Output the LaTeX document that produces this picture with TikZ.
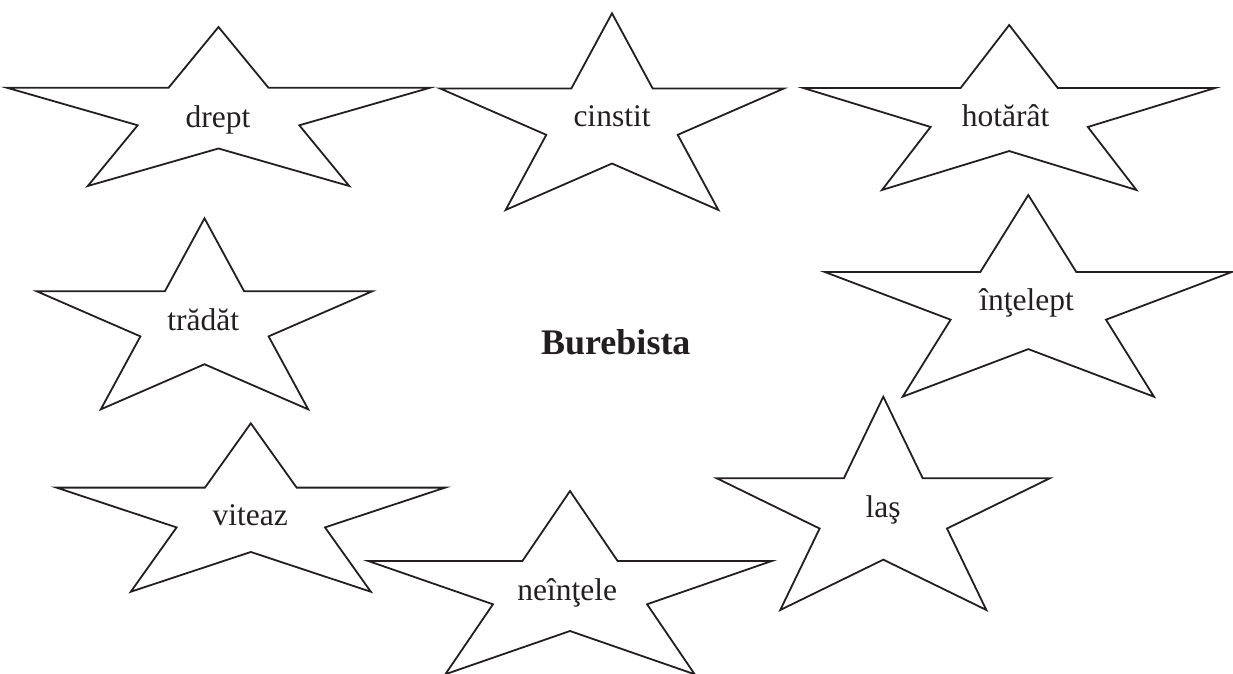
\documentclass[tikz,border=0pt]{standalone}
\usepackage{fontspec}
\setmainfont{Liberation Serif}
\usepackage{xcolor}
\usepackage{tikz}
\usetikzlibrary{calc}
\definecolor{inkBlack}{RGB}{35,31,32}
\tikzstyle{tsWord} = [
    text=inkBlack,
    font=\fontsize{31.5}{38}\selectfont,
    anchor=base,
    inner sep=0pt
]
\tikzstyle{tsTitle} = [
    tsWord,
    font=\fontsize{36}{43}\selectfont\bfseries
]
\tikzstyle{tsStar} = [
    draw=inkBlack,
    line width=1.8pt,
    line join=miter
]
% star: centre x, centre y, radius x, radius y
\newcommand{\drawStar}[4]{%
    \draw[tsStar] (#1,{#2-#4})
        \foreach \a/\f in {126/0.382,162/1,198/0.382,234/1,270/0.382,306/1,342/0.382,18/1,54/0.382}
        { -- ({#1+\f*#3*cos(\a)},{#2-\f*#4*sin(\a)}) } -- cycle;%
}

\begin{document}
\begin{tikzpicture}[x=1pt, y=-1pt]

        \useasboundingbox (0,0) rectangle (1233,673);
        \clip (0,0) rectangle (1233,673);

        \drawStar{218.5}{114.9}{222.4}{87.9}
        \drawStar{612}{122}{180.9}{108.7}
        \drawStar{1009.2}{116.2}{216.4}{91.2}
        \drawStar{204.5}{323.9}{176.4}{105.6}
        \drawStar{1028.3}{306.5}{213.8}{111.5}
        \drawStar{250.8}{516.4}{204.2}{93.1}
        \drawStar{570}{592.3}{212.1}{101.3}
        \drawStar{883.3}{514.6}{175.3}{117.9}

        \node[tsWord] (drept) at (218,127.3) {drept};
        \node[tsWord] (cinstit) at (612,126.7) {cinstit};
        \node[tsWord] (hotarat) at (1005.7,126.7) {hotărât};
        \node[tsWord] (tradat) at (203.3,330) {trădăt};
        \node[tsWord] (intelept) at (1026.7,310) {înţelept};
        \node[tsWord] (viteaz) at (250.3,525.7) {viteaz};
        \node[tsWord] (neintele) at (567.3,600.7) {neînţele};
        \node[tsWord] (las) at (883,517.7) {laş};

        \node[tsTitle] (burebista) at (615.8,354) {Burebista};

\end{tikzpicture}
\end{document}
